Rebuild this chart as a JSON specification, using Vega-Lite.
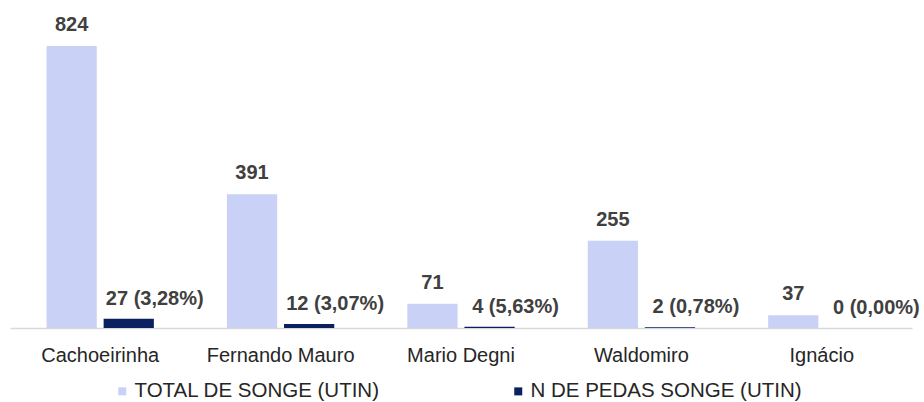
{
  "$schema": "https://vega.github.io/schema/vega-lite/v6.json",
  "width": 902,
  "height": 308,
  "autosize": "none",
  "padding": {"left": 10, "top": 20, "right": 12, "bottom": 74},
  "background": "white",
  "config": {"view": {"stroke": null}, "font": "Liberation Sans"},
  "data": {
    "values": [
      {"Unidade": "Cachoeirinha", "Serie": "TOTAL DE SONGE (UTIN)", "Valor": 824, "Rotulo": "824"},
      {"Unidade": "Cachoeirinha", "Serie": "N DE PEDAS SONGE (UTIN)", "Valor": 27, "Rotulo": "27 (3,28%)"},
      {"Unidade": "Fernando Mauro", "Serie": "TOTAL DE SONGE (UTIN)", "Valor": 391, "Rotulo": "391"},
      {"Unidade": "Fernando Mauro", "Serie": "N DE PEDAS SONGE (UTIN)", "Valor": 12, "Rotulo": "12 (3,07%)"},
      {"Unidade": "Mario Degni", "Serie": "TOTAL DE SONGE (UTIN)", "Valor": 71, "Rotulo": "71"},
      {"Unidade": "Mario Degni", "Serie": "N DE PEDAS SONGE (UTIN)", "Valor": 4, "Rotulo": "4 (5,63%)"},
      {"Unidade": "Waldomiro", "Serie": "TOTAL DE SONGE (UTIN)", "Valor": 255, "Rotulo": "255"},
      {"Unidade": "Waldomiro", "Serie": "N DE PEDAS SONGE (UTIN)", "Valor": 2, "Rotulo": "2 (0,78%)"},
      {"Unidade": "Ignácio", "Serie": "TOTAL DE SONGE (UTIN)", "Valor": 37, "Rotulo": "37"},
      {"Unidade": "Ignácio", "Serie": "N DE PEDAS SONGE (UTIN)", "Valor": 0, "Rotulo": "0 (0,00%)"}
    ]
  },
  "encoding": {
    "x": {
      "field": "Unidade",
      "type": "nominal",
      "sort": ["Cachoeirinha", "Fernando Mauro", "Mario Degni", "Waldomiro", "Ignácio"],
      "scale": {"paddingInner": 0, "paddingOuter": 0},
      "axis": {
        "title": null,
        "labelAngle": 0,
        "labelFontSize": 20,
        "labelFont": "Liberation Sans",
        "labelColor": "#262626",
        "ticks": false,
        "tickSize": 0,
        "labelPadding": 17,
        "domainColor": "#D9D9D9",
        "domainWidth": 1.5,
        "grid": false
      }
    },
    "xOffset": {
      "field": "Serie",
      "type": "nominal",
      "sort": ["TOTAL DE SONGE (UTIN)", "N DE PEDAS SONGE (UTIN)"],
      "scale": {"paddingInner": 0.12, "paddingOuter": 0.64}
    },
    "y": {
      "field": "Valor",
      "type": "quantitative",
      "scale": {"domain": [0, 900]},
      "axis": null
    }
  },
  "layer": [
    {
      "mark": {"type": "bar"},
      "encoding": {
        "color": {
          "field": "Serie",
          "type": "nominal",
          "sort": ["TOTAL DE SONGE (UTIN)", "N DE PEDAS SONGE (UTIN)"],
          "scale": {
            "domain": ["TOTAL DE SONGE (UTIN)", "N DE PEDAS SONGE (UTIN)"],
            "range": ["#C9D2F6", "#0B2060"]
          },
          "legend": {
            "title": null,
            "orient": "none",
            "legendX": 102,
            "legendY": 361,
            "direction": "horizontal",
            "symbolType": "square",
            "symbolSize": 64,
            "symbolStrokeWidth": 0,
            "labelFontSize": 20.5,
            "labelFont": "Liberation Sans",
            "labelColor": "#262626",
            "labelOffset": 2,
            "columnPadding": 128,
            "labelLimit": 400
          }
        }
      }
    },
    {
      "transform": [{"filter": "datum.Serie == 'TOTAL DE SONGE (UTIN)'"}],
      "mark": {"type": "text", "dy": -15, "baseline": "alphabetic", "align": "center", "fontSize": 20, "fontWeight": "bold", "font": "Liberation Sans", "color": "#404040"},
      "encoding": {"text": {"field": "Rotulo"}}
    },
    {
      "transform": [{"filter": "datum.Serie == 'N DE PEDAS SONGE (UTIN)'"}],
      "mark": {"type": "text", "dy": -14, "dx": 26, "baseline": "alphabetic", "align": "center", "fontSize": 20, "fontWeight": "bold", "font": "Liberation Sans", "color": "#404040"},
      "encoding": {"text": {"field": "Rotulo"}}
    }
  ]
}
